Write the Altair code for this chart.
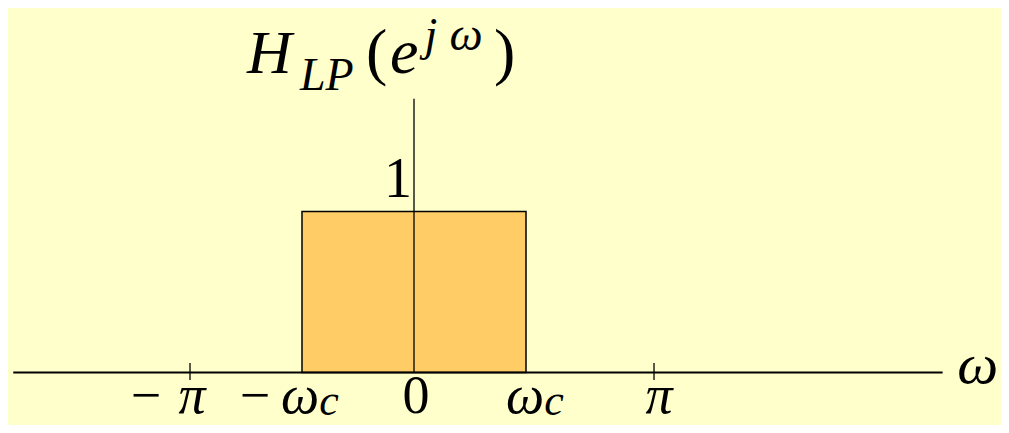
import altair as alt
import pandas as pd

# ---------------- data ----------------
# horizontal unit = omega_c, vertical unit = passband gain
band_edges = [-1.0, 1.0]            # -omega_c, omega_c
band_gain = 1.0
pi_ticks = [-2.0, 2.143]            # where -pi and pi are marked on the axis
axis_x_extent = [-3.578, 4.72]      # drawn extent of the omega axis
axis_y_top = 1.70                   # drawn height of the vertical axis
tick_span = [0.059, -0.047]         # small tick marks crossing the axis

tick_label_pos = [-2.0, -1.0, 0.0, 1.0, 2.143]
tick_label_text = ["−π", "−ω_c", "0", "ω_c", "π"]
y_label_text = "1"
title_text = "H_LP(e^{jω})"
x_axis_name = "ω"

# ---------------- layout / style ----------------
BG = "#FFFFCC"
FILL = "#FFCC66"
W, H = 993, 417
PX, PY = 112.0, 161.0               # pixels per data unit
X0, Y0 = 406.0, 364.5               # chart pixel of the origin
x_dom = [-X0 / PX, (W - X0) / PX]
y_dom = [-(H - Y0) / PY, Y0 / PY]
FONT = "Liberation Serif"

xs = alt.Scale(domain=x_dom, nice=False, zero=False)
ys = alt.Scale(domain=y_dom, nice=False, zero=False)


def X(f="x"):
    return alt.X(f"{f}:Q", scale=xs, axis=None)


def Y(f="y"):
    return alt.Y(f"{f}:Q", scale=ys, axis=None)


# pass band rectangle
band = pd.DataFrame({"x": [band_edges[0]], "x2": [band_edges[1]], "y": [0.0], "y2": [band_gain]})
rect = alt.Chart(band).mark_rect(fill=FILL, stroke="black", strokeWidth=1.5).encode(
    x=X(), x2="x2:Q", y=Y(), y2="y2:Q")

# horizontal axis
haxis = pd.DataFrame({"x": [axis_x_extent[0]], "x2": [axis_x_extent[1]], "y": [0.0]})
hrule = alt.Chart(haxis).mark_rule(color="black", strokeWidth=2).encode(x=X(), x2="x2:Q", y=Y())

# vertical axis
vaxis = pd.DataFrame({"x": [0.0], "y": [0.0], "y2": [axis_y_top]})
vrule = alt.Chart(vaxis).mark_rule(color="black", strokeWidth=1.3).encode(x=X(), y=Y(), y2="y2:Q")

# small ticks at -pi and pi
ticks = pd.DataFrame({"x": pi_ticks, "y": [tick_span[0]] * 2, "y2": [tick_span[1]] * 2})
trule = alt.Chart(ticks).mark_rule(color="black", strokeWidth=1.3).encode(x=X(), y=Y(), y2="y2:Q")

# ---------------- text pieces (glyph placement relative to anchors, px) ----------------
pieces = []


def piece(text, ax, ay, dx, dy, size, italic, anchor="center"):
    pieces.append({"label": text, "x": ax + dx / PX, "y": ay - dy / PY,
                   "fs": size, "ital": italic, "anch": anchor})


BASE = 40.0  # baseline below the axis, px
LS = 54      # label font size
lab = dict(zip(tick_label_text, tick_label_pos))
# -pi
piece("−", lab["−π"], 0, -44, BASE, LS, False)
piece("π", lab["−π"], 0, 2, BASE, LS, True)
# -omega_c
piece("−", lab["−ω_c"], 0, -47, BASE, LS, False)
piece("ω", lab["−ω_c"], 0, -2, BASE, LS, True)
piece("c", lab["−ω_c"], 0, 27, BASE + 2, 44, True)
# 0
piece("0", lab["0"], 0, 2, BASE, LS, False)
# omega_c
piece("ω", lab["ω_c"], 0, -1, BASE, LS, True)
piece("c", lab["ω_c"], 0, 28, BASE + 2, 44, True)
# pi
piece("π", lab["π"], 0, 5, BASE, LS, True)
# axis name
piece(x_axis_name, axis_x_extent[1], 0, 35, 10.5, 58, True)
# "1" on the vertical axis
piece(y_label_text, 0, band_gain, -16, -14.5, 56, False)
# title  H_LP(e^{jω})
piece("H", 0, axis_y_top, -167, -26, 62, True, "left")
piece("LP", 0, axis_y_top, -114, -9, 46, True, "left")
piece("(", 0, axis_y_top, -48, -26, 64, False, "left")
piece("e", 0, axis_y_top, -24, -26, 64, True, "left")
piece("j", 0, axis_y_top, 17, -49, 46, True, "center")
piece("ω", 0, axis_y_top, 52, -49, 47, True, "center")
piece(")", 0, axis_y_top, 80, -26, 64, False, "left")

tp = pd.DataFrame(pieces)

layers = [rect, vrule, hrule, trule]
for italic in (True, False):
    for anchor in ("center", "left"):
        sub = tp[(tp["ital"] == italic) & (tp["anch"] == anchor)]
        if len(sub) == 0:
            continue
        layers.append(
            alt.Chart(sub).mark_text(font=FONT, fontStyle="italic" if italic else "normal",
                                     align=anchor, baseline="alphabetic", color="black").encode(
                x=X(), y=Y(), text="label:N", size=alt.Size("fs:Q", scale=None, legend=None))
        )

chart = alt.layer(*layers).properties(
    width=W, height=H, background=BG, padding=0,
    autosize=alt.AutoSizeParams(type="none"),
).configure_view(stroke=None)

chart.save("out.html", embed_options={"renderer": "svg", "actions": False})
